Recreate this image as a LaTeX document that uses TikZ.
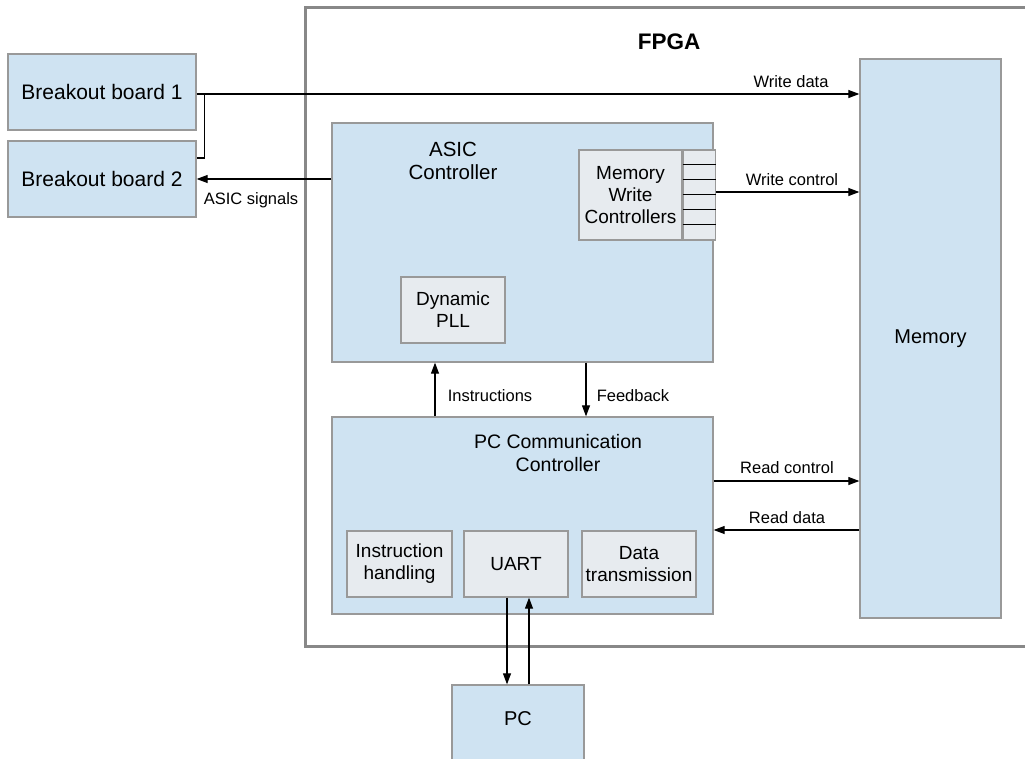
\documentclass[tikz,border=0pt]{standalone}
\usepackage{fontspec}
\setmainfont{Liberation Sans}
\usetikzlibrary{arrows.meta,calc}

\definecolor{boxblue}{HTML}{CFE3F2}
\definecolor{boxgray}{HTML}{E7EBEF}
\definecolor{edgegray}{HTML}{999999}
\definecolor{fpgagray}{HTML}{888888}

\newcommand{\fs}[2]{\fontsize{#1}{#2}\selectfont}

\tikzset{
  blockbox/.style={draw=edgegray, line width=1.3pt, fill=boxblue, inner sep=0pt,
    align=center, font=\fs{20}{24}},
  subbox/.style={draw=edgegray, line width=1.3pt, fill=boxgray, inner sep=0pt,
    align=center, font=\fs{19}{22}},
  titletext/.style={align=center, inner sep=0pt, font=\fs{20.5}{22.5}},
  sigtext/.style={inner sep=0pt, font=\fs{16.5}{20}},
  arr/.style={line width=1.1pt, -{Triangle[length=11pt,width=8pt]}},
  wire/.style={line width=1.1pt},
}

\begin{document}
\begin{tikzpicture}[x=1pt, y=-1pt]
\useasboundingbox (0,0) rectangle (1025,758);
\clip (0,0) rectangle (1025,758);

% FPGA enclosure (right edge lies off the page)
\draw[fpgagray, line width=3pt] (1040,7) -- (305,7) -- (305,646) -- (1040,646);
\node[font=\fs{22.5}{26}\bfseries, inner sep=0pt] (fpgatitle) at (669,42) {FPGA};

% external boards
\node[blockbox, font=\fs{21}{25}, minimum width=188pt, minimum height=76pt] (bb1) at (102,92) {Breakout board 1};
\node[blockbox, font=\fs{21}{25}, minimum width=188pt, minimum height=76pt] (bb2) at (102,179) {Breakout board 2};

% memory
\node[blockbox, minimum width=141pt, minimum height=559pt] (mem) at (930.5,338.5) {Memory};

% ASIC controller
\node[blockbox, minimum width=381pt, minimum height=239pt] (asic) at (522.5,242.5) {};
\node[titletext] (asictitle) at (453,161) {ASIC\\Controller};
\node[subbox, minimum width=103pt, minimum height=90pt] (mwc) at (630.5,195) {Memory\\Write\\Controllers};
\node[subbox, minimum width=32pt, minimum height=90pt, anchor=west] (ports) at (mwc.east) {};
\foreach \k in {1,...,5}
  \draw[line width=0.9pt] ($(ports.north west)+(0,15*\k)$) -- ($(ports.north east)+(0,15*\k)$);
\node[subbox, minimum width=104pt, minimum height=66pt] (pll) at (453,310) {Dynamic\\PLL};

% PC communication controller
\node[blockbox, minimum width=381pt, minimum height=197pt] (pcc) at (522.5,515.5) {};
\node[titletext, font=\fs{19.5}{23}] (pcctitle) at (558,453) {PC Communication\\Controller};
\node[subbox, minimum width=105pt, minimum height=66pt] (ih) at (399.5,564) {Instruction\\handling};
\node[subbox, minimum width=104pt, minimum height=66pt] (uart) at (516,564) {UART};
\node[subbox, minimum width=114pt, minimum height=66pt] (dt) at (639,564) {Data\\transmission};

% host PC
\node[blockbox, minimum width=132pt, minimum height=90pt] (pc) at (518,730) {};
\node[titletext, font=\fs{20}{24}] (pctext) at (518,719) {PC};

% signal connectors
\coordinate (wd) at ([yshift=-2pt]bb1.east);
\draw[arr] (wd) -- (wd -| mem.west);
\node[sigtext] (wdlabel) at (791,82) {Write data};
\draw[wire] ([xshift=8pt]wd) |- ([yshift=21pt]bb2.east);

\draw[arr] (bb2.east -| asic.west) -- (bb2.east);
\node[sigtext] (aslabel) at (251,200) {ASIC signals};

\coordinate (wc) at ([yshift=3pt]ports.east);
\draw[arr] (wc) -- (wc -| mem.west);
\node[sigtext] (wclabel) at (792,180) {Write control};

\draw[arr] ([xshift=-87.5pt]pcc.north) -- ([xshift=-87.5pt]asic.south);
\node[sigtext] (inlabel) at (490,396) {Instructions};
\draw[arr] ([xshift=63.5pt]asic.south) -- ([xshift=63.5pt]pcc.north);
\node[sigtext] (fblabel) at (633,396) {Feedback};

\coordinate (rc) at ([yshift=34.5pt]pcc.east);
\draw[arr] (rc) -- (rc -| mem.west);
\node[sigtext] (rclabel) at (787,468) {Read control};
\coordinate (rd) at ([yshift=-14.5pt]pcc.east);
\draw[arr] (rd -| mem.west) -- (rd);
\node[sigtext] (rdlabel) at (787,518) {Read data};

\draw[arr] ([xshift=-9pt]uart.south) -- ([xshift=-9pt]uart.south |- pc.north);
\draw[arr] ([xshift=13pt]uart.south |- pc.north) -- ([xshift=13pt]uart.south);
\end{tikzpicture}
\end{document}
